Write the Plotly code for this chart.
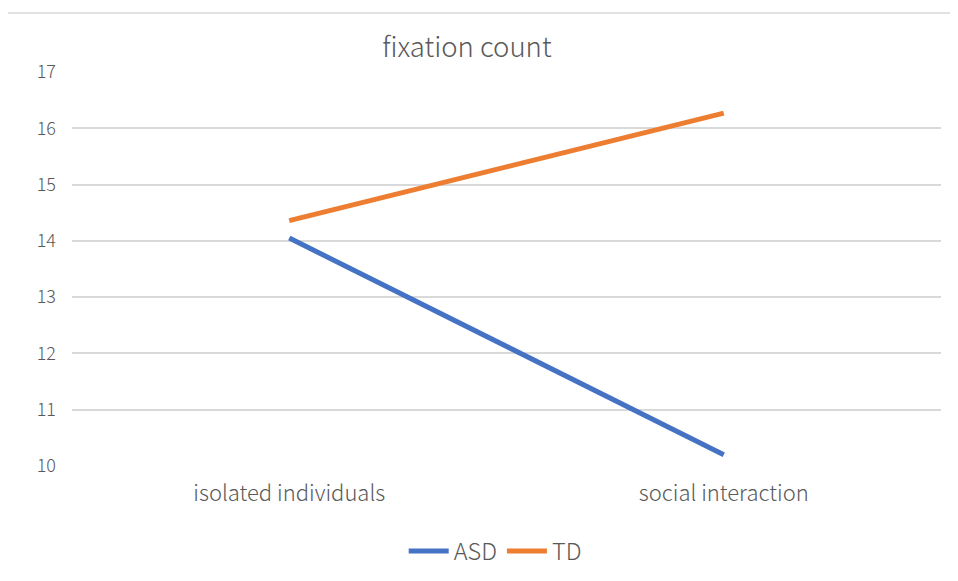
import plotly.graph_objects as go

categories = ["isolated individuals", "social interaction"]
asd = [14.05, 10.2]
td = [14.36, 16.27]
y_ticks = [10, 11, 12, 13, 14, 15, 16, 17]

FONT = "Noto Sans CJK SC"
GRAY = "#595959"

fig = go.Figure()
fig.add_trace(go.Scatter(x=categories, y=asd, mode="lines", name="ASD",
                         line=dict(color="#4472C4", width=5)))
fig.add_trace(go.Scatter(x=categories, y=td, mode="lines", name="TD",
                         line=dict(color="#ED7D31", width=5)))

fig.update_layout(
    width=958, height=581,
    margin=dict(l=64, r=25, t=64, b=123),
    paper_bgcolor="white", plot_bgcolor="white",
    font=dict(family=FONT, color=GRAY, size=16, weight=300),
    title=dict(text="fixation count", x=0.479, xanchor="center", y=0.933, yanchor="middle",
               font=dict(size=27.5, color=GRAY, family=FONT, weight=300)),
    showlegend=True,
    legend=dict(orientation="h", x=0.487, xanchor="center", y=-0.216, yanchor="middle",
                font=dict(size=23.5, color=GRAY, family=FONT, weight=300), itemwidth=40),
    xaxis=dict(type="category", range=[-0.5, 1.5], showgrid=False, showline=False,
               ticks="", tickfont=dict(size=22, color=GRAY, weight=300), ticklabelstandoff=12),
    yaxis=dict(range=[10, 17], tickvals=y_ticks, showgrid=True, gridcolor="#D9D9D9",
               gridwidth=1.5, zeroline=False, showline=False, ticks="",
               tickfont=dict(size=18, color=GRAY, weight=300), ticklabelstandoff=15),
    shapes=[dict(type="rect", xref="paper", yref="paper",
                 x0=-0.077, x1=1.04, y0=-0.35, y1=1.1497,
                 line=dict(color="#D9D9D9", width=1.5), fillcolor="rgba(0,0,0,0)",
                 layer="below")],
)

fig.write_html("out.html")
